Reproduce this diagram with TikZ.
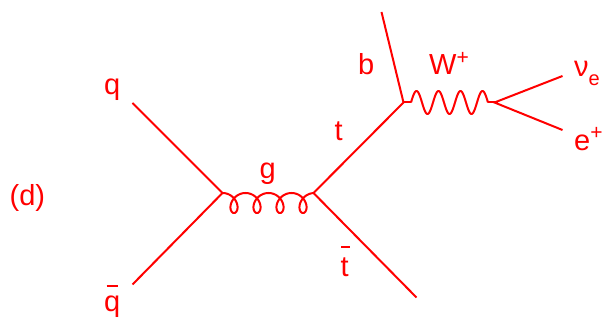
\documentclass[tikz,border=0pt]{standalone}
\usepackage{fontspec}
\setmainfont{Liberation Sans}
\newcommand{\barred}[3]{\leavevmode\rlap{\hspace{#1}\raisebox{#2}{\rule{#3}{1.5pt}}}}
\tikzset{
  fermion/.style={draw=red,line width=2pt},
  boson/.style={draw=red,line width=2pt,line join=round},
  lab/.style={text=red,inner sep=0pt,anchor=base west,font=\fontsize{29}{31}\selectfont}
}
\begin{document}
\begin{tikzpicture}[x=1pt,y=-1pt]
\useasboundingbox (0,0) rectangle (606,323);
\coordinate (v1) at (222.5,193);
\coordinate (v2) at (313.5,193);
\coordinate (v3) at (403.5,102.5);
\coordinate (v4) at (494.5,102.5);
\coordinate (wa) at (411,102.5);
\coordinate (wb) at (488,102.5);
\coordinate (q) at (132.5,103);
\coordinate (qb) at (132.5,284.5);
\coordinate (tb) at (416.5,297.5);
\coordinate (b) at (381.5,12);
\coordinate (nu) at (562.5,76);
\coordinate (ep) at (562.5,130);
\draw[fermion] (q) -- (v1) -- (qb);
\draw[fermion] (tb) -- (v2) -- (v3) -- (b);
\draw[fermion] (nu) -- (v4) -- (ep);
\draw[boson,shift={(v1)}] plot[domain=0:1440,samples=289,smooth] ({0.0639*\x+8.5*sin(\x)},{10-10*cos(\x)});
\draw[boson] (v3) -- (wa);
\draw[boson,shift={(wa)}] plot[domain=0:1260,samples=211,smooth] ({\x*0.06111},{-11.5*sin(\x)});
\draw[boson] (wb) -- (v4);
\node[lab] (lq) at (104,95) {q};
\node[lab] (lqb) at (104,312) {\barred{2.5pt}{25pt}{11pt}q};
\node[lab] (ld) at (9.5,206) {(d)};
\node[lab] (lg) at (259.5,179) {g};
\node[lab] (lt) at (334.5,141) {t};
\node[lab] (ltb) at (340.5,277) {\barred{0.5pt}{29pt}{9pt}t};
\node[lab] (lb) at (358,75) {b};
\node[lab] (lw) at (429,75) {W\raisebox{10pt}{\fontsize{21}{22}\selectfont +}};
\node[lab] (lnu) at (574,77) {ν\raisebox{-9pt}{\fontsize{20}{21}\selectfont e}};
\node[lab] (le) at (574,150.5) {e\raisebox{11pt}{\fontsize{21}{22}\selectfont +}};
\end{tikzpicture}
\end{document}
